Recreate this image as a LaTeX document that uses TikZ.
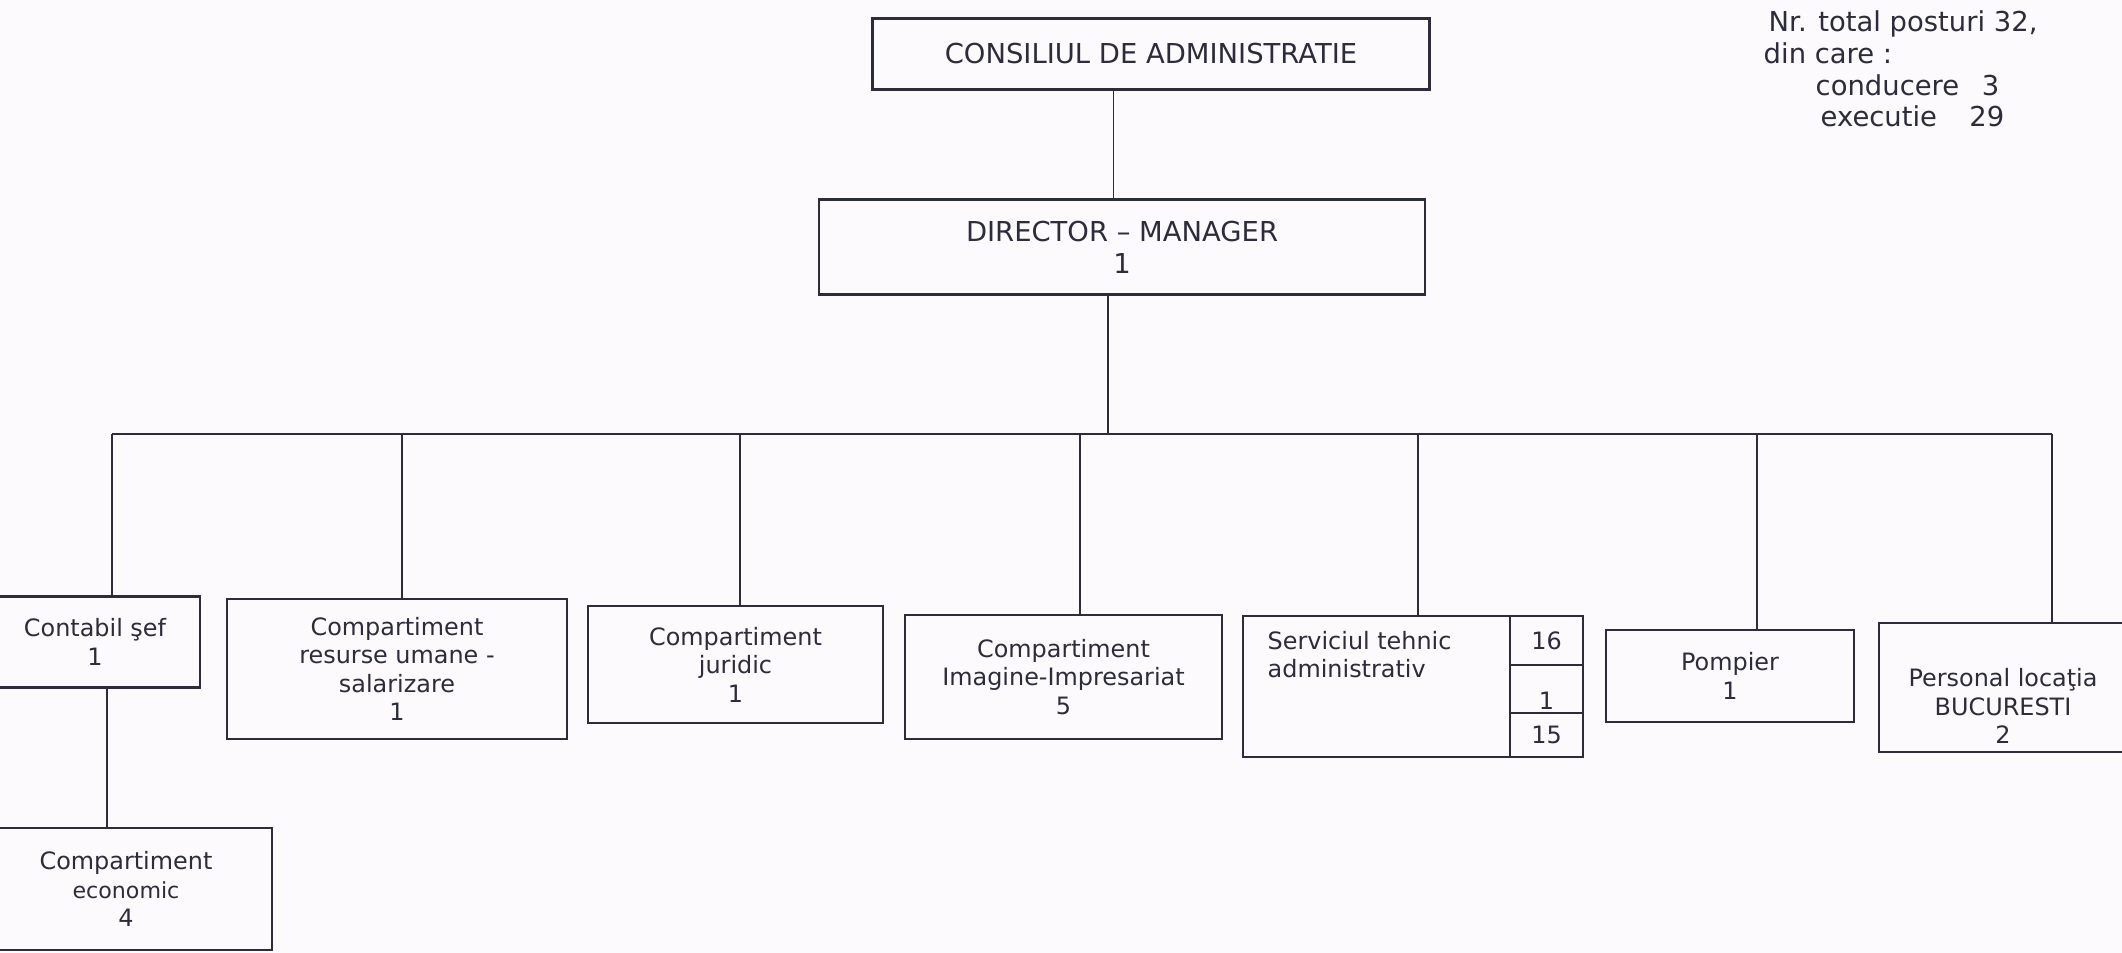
\documentclass[tikz,border=0pt]{standalone}
\usepackage{fontspec}
\setmainfont{DejaVu Sans}
\usetikzlibrary{positioning}
\definecolor{ink}{RGB}{44,44,58}
\definecolor{paper}{RGB}{252,250,252}
\begin{document}
\begin{tikzpicture}[scale=1,
		box/.style={draw=ink, line width=0.7pt, align=center, inner sep=1pt, outer sep=0pt, text=ink, font=\fontsize{6.8}{8.1}\selectfont},
		topbox/.style={box, font=\fontsize{7.8}{9.1}\selectfont},
		txt/.style={inner sep=0pt, align=center, text=ink, font=\fontsize{6.8}{8.1}\selectfont},
		note/.style={inner sep=0pt, text=ink, font=\fontsize{7.8}{9.1}\selectfont},
		link/.style={draw=ink, line width=0.5pt},
		bus/.style={draw=ink, line width=0.8pt}]
			\fill[paper] (0,0) rectangle (21.22,-9.53);
			\useasboundingbox (0,0) rectangle (21.22,-9.53);
			\node[topbox, minimum width=5.57cm, minimum height=0.71cm] (ca) at (11.51,-0.54) {CONSILIUL DE ADMINISTRATIE};
			\node[topbox, minimum width=6.06cm, minimum height=0.95cm] (dm) at (11.22,-2.47) {DIRECTOR – MANAGER\\1};
			\draw[link] ([xshift=-3.75mm]ca.south) -- ([xshift=-3.75mm]ca.south |- dm.north);
			\coordinate (busL) at (1.12,-4.34);
			\coordinate (busR) at (20.52,-4.34);
			\draw[bus] (busL) -- (busR);
			\draw[link] ([xshift=-1.4mm]dm.south) -- ([xshift=-1.4mm]dm.south |- busL);
			\node[box, minimum width=2.10cm, minimum height=0.91cm] (cs) at (0.95,-6.42) {Contabil şef\\1};
			\node[box, minimum width=2.92cm, minimum height=1.22cm] (ce) at (1.26,-8.89) {Compartiment\\{\fontsize{6.3}{8.1}\selectfont economic}\\4};
			\node[box, minimum width=3.40cm, minimum height=1.40cm] (rus) at (3.97,-6.69) {Compartiment\\resurse umane -\\salarizare\\1};
			\node[box, minimum width=2.95cm, minimum height=1.17cm] (cj) at (7.355,-6.645) {Compartiment\\juridic\\1};
			\node[box, minimum width=3.17cm, minimum height=1.245cm] (cii) at (10.635,-6.77) {Compartiment\\Imagine-Impresariat\\5};
			\node[box, minimum width=3.40cm, minimum height=1.41cm] (sta) at (14.13,-6.865) {};
			\node[txt, align=left, anchor=north west] (stt) at ([xshift=2.4mm, yshift=-1.45mm]sta.north west) {Serviciul tehnic\\administrativ};
			\node[box, minimum width=0.73cm, minimum height=0.49cm, anchor=north east] (s16) at (sta.north east) {16};
			\node[box, minimum width=0.73cm, minimum height=0.48cm, below=0pt of s16,
				label={[txt, anchor=south, inner sep=0.8pt]south:1}] (s1) {};
			\node[box, minimum width=0.73cm, minimum height=0.44cm, below=0pt of s1] (s15) {15};
			\node[box, minimum width=2.48cm, minimum height=0.925cm] (pp) at (17.30,-6.76) {Pompier\\1};
			\node[box, minimum width=2.48cm, minimum height=1.29cm] (pb) at (20.03,-6.875) {};
			\node[txt] (pbt) at (20.03,-7.06) {Personal locaţia\\BUCURESTI\\2};
			\foreach \b/\x in {cs/1.12, rus/4.02, cj/7.40, cii/10.80, sta/14.18, pp/17.57, pb/20.52} {
					\draw[link] (\x,0 |- busL) -- (\x,0 |- \b.north);
				}
			\draw[link] ([xshift=1.2mm]cs.south) -- ([xshift=1.2mm]cs.south |- ce.north);
			\node[note, anchor=base west] (total) at (17.68,-0.32) {Nr. total posturi 32,};
			\node[note, anchor=base west] (dincare) at (17.63,-0.64) {din care :};
			\node[note, anchor=base west] (cond) at (18.15,-0.96) {conducere};
			\node[note, anchor=base east] (condnr) at (20.00,-0.96) {3};
			\node[note, anchor=base west] (exec) at (18.20,-1.27) {executie};
			\node[note, anchor=base east] (execnr) at (20.05,-1.27) {29};
		\end{tikzpicture}
\end{document}
